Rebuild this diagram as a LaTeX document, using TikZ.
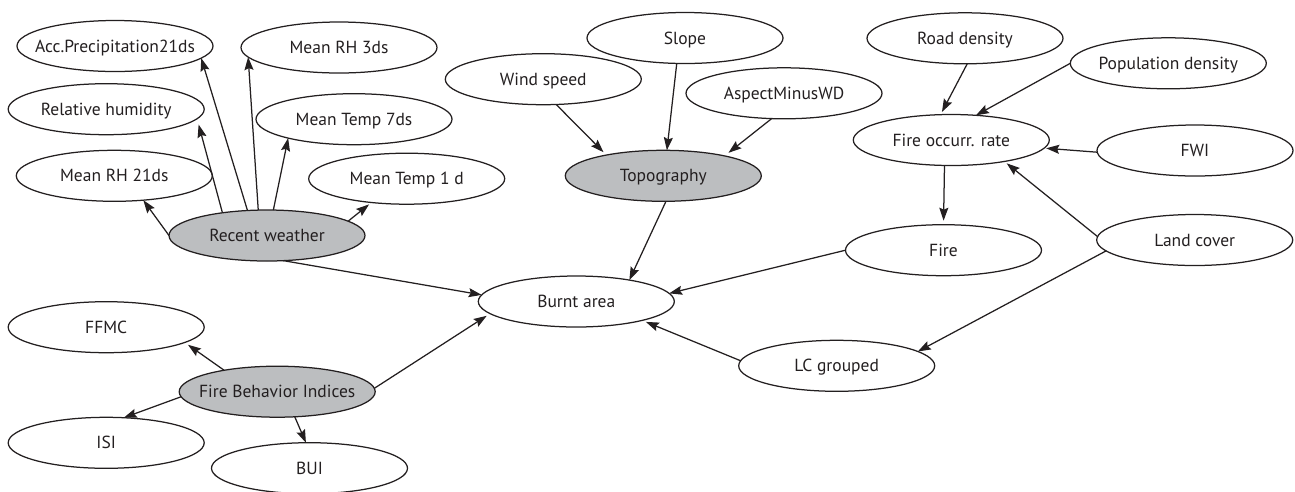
\documentclass[tikz,border=0pt]{standalone}
\usepackage{fontspec}
\setmainfont{PT Sans}
\usetikzlibrary{arrows.meta,shapes.geometric}
\definecolor{ink}{RGB}{35,31,32}
\definecolor{shade}{RGB}{188,190,192}
\tikzset{
  var/.style={ellipse, draw=ink, line width=1.25pt,
    minimum width=196pt, minimum height=51pt, inner sep=0pt, outer sep=0pt},
  latent/.style={var, fill=shade},
  vtext/.style={text=ink, inner sep=0pt, text height=12pt, text depth=0pt,
    font=\fontsize{17.5}{21}\selectfont},
  link/.style={draw=ink, line width=1.25pt,
    -{Stealth[length=13pt,width=9pt,inset=2pt]}},
}
% an ellipse of fixed size with its caption set on top of it
\newcommand\varnode[4]{\node[#1, label={[vtext]center:#4}] (#2) at (#3) {};}
\begin{document}
\begin{tikzpicture}[x=1pt,y=-1pt]
\useasboundingbox (0,0) rectangle (1295,491);

% weather variables
\varnode{var}{ac}{115,46}{Acc.Precipitation21ds}
\varnode{var}{rh3}{339,47.5}{Mean RH 3ds}
\varnode{var}{relh}{106.2,109.2}{Relative humidity}
\varnode{var}{mt7}{354,119.2}{Mean Temp 7ds}
\varnode{var}{rh21}{114.3,175.8}{Mean RH 21ds}
\varnode{var}{mt1}{406.7,178.7}{Mean Temp 1 d}
\varnode{latent}{rw}{267,235.5}{Recent weather}

% terrain
\varnode{var}{slope}{685,38}{Slope}
\varnode{var}{wind}{543.3,79.2}{Wind speed}
\varnode{var}{asp}{784,93.3}{AspectMinusWD}
\varnode{latent}{topo}{663.3,175.8}{Topography}

% ignition
\varnode{var}{road}{965,38.3}{Road density}
\varnode{var}{pop}{1168.3,63.3}{Population density}
\varnode{var}{focc}{951.3,140}{Fire occurr. rate}
\varnode{var}{fwi}{1195,150.5}{FWI}
\varnode{var}{fire}{943.5,250.2}{Fire}
\varnode{var}{land}{1194.7,240}{Land cover}
\varnode{var}{lcg}{836.7,365.8}{LC grouped}

% outcome
\varnode{var}{burnt}{576.3,301.5}{Burnt area}

% fire behaviour indices
\varnode{var}{ffmc}{106.2,327.2}{FFMC}
\varnode{latent}{fbi}{277.2,391.7}{Fire Behavior Indices}
\varnode{var}{isi}{106.2,442.8}{ISI}
\varnode{var}{bui}{309.5,468.2}{BUI}

% recent weather
\draw[link] (rw.180) -- (rh21.-40);
\draw[link, shorten >=6pt] (rw.153) -- (relh.-6);
\draw[link] (rw.128) -- (ac.-8);
\draw[link] (rw.109) -- (rh3.186);
\draw[link] (rw.76) -- (mt7.196);
\draw[link, shorten >=3pt] (rw.10.5) -- (mt1.214);
\draw[link] (rw.-57) -- (burnt.176);

% topography
\draw[link] (topo.-84) -- (burnt.22);
\draw[link, shorten >=4pt] (wind.-63) -- (topo.160);
\draw[link] (slope.252) -- (topo.82);
\draw[link, shorten >=5pt] (asp.244) -- (topo.18);

% occurrence
\draw[link, shorten >=3pt] (road.-85) -- (focc.113);
\draw[link] (pop.180) -- (focc.45);
\draw[link, shorten >=2pt] (fwi.181) -- (focc.-5);
\draw[link, shorten >=3pt] (land.178) -- (focc.-22);
\draw[link, shorten >=4pt] (focc.255) -- (fire.90);
\draw[link] (fire.180) -- (burnt.5);
\draw[link] (land.187) -- (lcg.10);
\draw[link, shorten >=4pt] (lcg.177) -- (burnt.-16);

% indices
\draw[link, shorten >=4pt] (fbi.2) -- (burnt.188);
\draw[link, shorten >=4pt] (fbi.158) -- (ffmc.-11);
\draw[link] (fbi.183) -- (isi.55);
\draw[link] (fbi.-55) -- (bui.98);
\end{tikzpicture}
\end{document}
